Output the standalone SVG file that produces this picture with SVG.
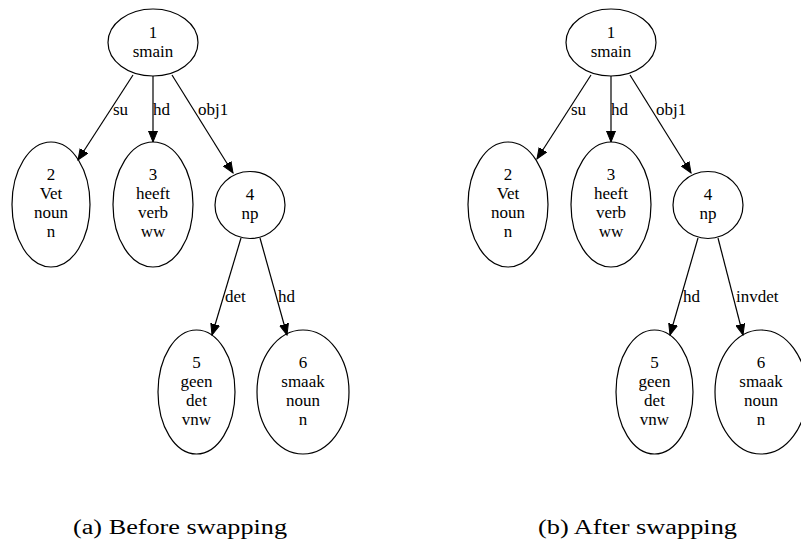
<svg xmlns="http://www.w3.org/2000/svg" width="801" height="546" viewBox="0 0 801 546">
  <style>
    text { font-family: 'Liberation Serif', 'Times New Roman', 'DejaVu Serif', serif; fill: #000; }
    .node ellipse { fill: none; stroke: #000; stroke-width: 1.2; }
    .node text { font-size: 17px; text-anchor: middle; }
    .edge line { stroke: #000; stroke-width: 1.2; marker-end: url(#arrow); }
    .edge text { font-size: 17px; }
    .caption { font-size: 20px; }
  </style>
  <defs>
    <marker id="arrow" markerUnits="userSpaceOnUse" markerWidth="12" markerHeight="10" refX="11" refY="5" orient="auto">
      <polygon points="0,0.5 11,5 0,9.5" fill="#000" stroke="#000" stroke-width="1"/>
    </marker>
  </defs>

  <!-- (a) tree before swapping -->
  <g id="tree-a">
    <g id="edges-a" class="edge">
      <line x1="133" y1="75" x2="78" y2="160"/>
      <text x="113" y="115">su</text>
      <line x1="153" y1="76" x2="153" y2="142"/>
      <text x="153" y="115">hd</text>
      <line x1="172" y1="75" x2="233" y2="173"/>
      <text x="198" y="115">obj1</text>
      <line x1="241" y1="238" x2="212" y2="335"/>
      <text x="225" y="302">det</text>
      <line x1="260" y1="238" x2="287" y2="335"/>
      <text x="278" y="302">hd</text>
    </g>
    <g id="a-n1" class="node">
      <ellipse cx="153" cy="42.5" rx="45" ry="33.5"/>
      <text x="153" y="38">1</text>
      <text x="153" y="57">smain</text>
    </g>
    <g id="a-n2" class="node">
      <ellipse cx="51" cy="204.5" rx="39" ry="62.5"/>
      <text x="51" y="180">2</text>
      <text x="51" y="199">Vet</text>
      <text x="51" y="218">noun</text>
      <text x="51" y="237">n</text>
    </g>
    <g id="a-n3" class="node">
      <ellipse cx="153" cy="204.5" rx="40" ry="62.5"/>
      <text x="153" y="180">3</text>
      <text x="153" y="199">heeft</text>
      <text x="153" y="218">verb</text>
      <text x="153" y="237">ww</text>
    </g>
    <g id="a-n4" class="node">
      <ellipse cx="250" cy="205" rx="35" ry="33.5"/>
      <text x="250" y="200">4</text>
      <text x="250" y="219">np</text>
    </g>
    <g id="a-n5" class="node">
      <ellipse cx="196.5" cy="392" rx="38.5" ry="62"/>
      <text x="196.5" y="368">5</text>
      <text x="196.5" y="387">geen</text>
      <text x="196.5" y="406">det</text>
      <text x="196.5" y="425">vnw</text>
    </g>
    <g id="a-n6" class="node">
      <ellipse cx="303" cy="392" rx="46" ry="62"/>
      <text x="303" y="368">6</text>
      <text x="303" y="387">smaak</text>
      <text x="303" y="406">noun</text>
      <text x="303" y="425">n</text>
    </g>
  </g>

  <!-- (b) tree after swapping -->
  <g id="tree-b">
    <g id="edges-b" class="edge">
      <line x1="591" y1="75" x2="537" y2="159"/>
      <text x="571" y="115">su</text>
      <line x1="611" y1="76" x2="611" y2="142"/>
      <text x="611" y="115">hd</text>
      <line x1="630" y1="75" x2="691" y2="173"/>
      <text x="656" y="115">obj1</text>
      <line x1="698" y1="238" x2="670" y2="335"/>
      <text x="683" y="302">hd</text>
      <line x1="718" y1="238" x2="743" y2="335"/>
      <text x="736" y="302">invdet</text>
    </g>
    <g id="b-n1" class="node">
      <ellipse cx="611" cy="42.5" rx="45" ry="33.5"/>
      <text x="611" y="38">1</text>
      <text x="611" y="57">smain</text>
    </g>
    <g id="b-n2" class="node">
      <ellipse cx="508" cy="204.5" rx="40" ry="62.5"/>
      <text x="508" y="180">2</text>
      <text x="508" y="199">Vet</text>
      <text x="508" y="218">noun</text>
      <text x="508" y="237">n</text>
    </g>
    <g id="b-n3" class="node">
      <ellipse cx="611" cy="204.5" rx="40" ry="62.5"/>
      <text x="611" y="180">3</text>
      <text x="611" y="199">heeft</text>
      <text x="611" y="218">verb</text>
      <text x="611" y="237">ww</text>
    </g>
    <g id="b-n4" class="node">
      <ellipse cx="708" cy="205" rx="35" ry="33.5"/>
      <text x="708" y="200">4</text>
      <text x="708" y="219">np</text>
    </g>
    <g id="b-n5" class="node">
      <ellipse cx="654.5" cy="392" rx="38.5" ry="62"/>
      <text x="654.5" y="368">5</text>
      <text x="654.5" y="387">geen</text>
      <text x="654.5" y="406">det</text>
      <text x="654.5" y="425">vnw</text>
    </g>
    <g id="b-n6" class="node">
      <ellipse cx="761" cy="392" rx="46" ry="62"/>
      <text x="761" y="368">6</text>
      <text x="761" y="387">smaak</text>
      <text x="761" y="406">noun</text>
      <text x="761" y="425">n</text>
    </g>
  </g>

  <!-- captions -->
  <text class="caption" x="73" y="534" textLength="214" lengthAdjust="spacingAndGlyphs">(a) Before swapping</text>
  <text class="caption" x="538" y="534" textLength="199" lengthAdjust="spacingAndGlyphs">(b) After swapping</text>
</svg>
